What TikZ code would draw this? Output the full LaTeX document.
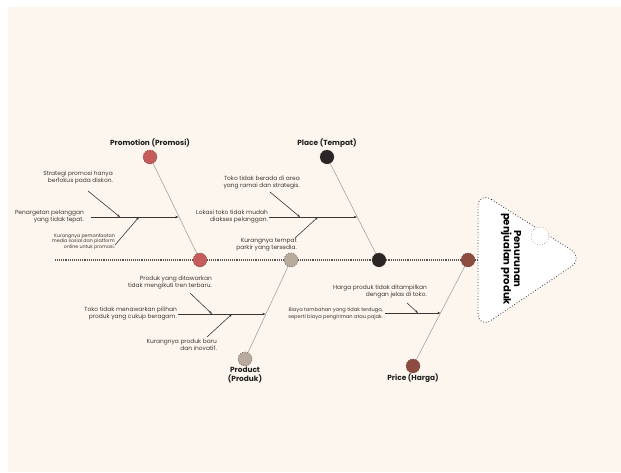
\documentclass[tikz,border=0pt]{standalone}
\usepackage{fontspec}
\setmainfont{Poppins}
\usetikzlibrary{arrows.meta}
\definecolor{cream}{HTML}{FDF6EE}
\definecolor{promoc}{HTML}{C65B5B}
\definecolor{placec}{HTML}{2A2626}
\definecolor{prodc}{HTML}{B8AA9C}
\definecolor{pricec}{HTML}{8E4B3F}
\definecolor{inkc}{HTML}{3A3636}
\begin{document}
\begin{tikzpicture}[x=1pt,y=-1pt,
  dotc/.style={circle,minimum size=14pt,inner sep=0pt,draw=inkc,line width=0.6pt,dotted},
  bone/.style={draw=gray!75,line width=0.55pt},
  sub/.style={draw=inkc,line width=0.6pt,-{Stealth[length=3.2pt,width=2.4pt]}},
  spine/.style={draw=inkc!85,line width=1.1pt,dash pattern=on 1pt off 0.9pt},
  cause/.style={font=\fontsize{5.9}{7}\selectfont,align=right,anchor=east,inner sep=0pt,text=inkc},
  tiny/.style={font=\fontsize{4.75}{5.4}\selectfont,align=right,anchor=east,inner sep=0pt,text=inkc},
  tinyb/.style={font=\fontsize{5.1}{6.6}\selectfont,align=right,anchor=east,inner sep=0pt,text=inkc},
  lbl/.style={font=\fontsize{7.4}{8.8}\selectfont\bfseries,align=center,inner sep=0pt,text=black!88}]
\useasboundingbox (0,0) rectangle (621,472);
\fill[white] (0,0) rectangle (621,472);
\fill[cream] (8,7) rectangle (621,472);
% head
\draw[fill=white,draw=inkc,line width=0.8pt,dotted,rounded corners=16pt]
  (478,191) -- (584,258) -- (478,329) -- cycle;
\node[circle,minimum size=18pt,inner sep=0pt,draw=gray,fill=white,line width=0.6pt,dotted] (eye) at (540,236) {};
\node[rotate=-90,font=\fontsize{10}{10.5}\selectfont\bfseries,align=center,inner sep=0pt] (head) at (511,259) {Penurunan\\penjualan produk};
\coordinate (tail) at (55,260);
\coordinate (headL) at (478,260);
\draw[spine] (tail) -- (headL);
% top and bottom circles
\node[dotc,fill=promoc] (promoT) at (150,157) {};
\node[dotc,fill=placec] (placeT) at (327,157) {};
\node[dotc,fill=prodc] (prodB) at (245,359) {};
\node[dotc,fill=pricec] (priceB) at (413,366) {};
% bones
\draw[bone] (promoT) -- (200,260) coordinate (promoJp);
\draw[bone] (placeT) -- (379,260) coordinate (placeJp);
\draw[bone] (prodB) -- (291,260) coordinate (prodJp);
\draw[bone] (priceB) -- (468,260) coordinate (priceJp);
% joints on spine
\node[dotc,fill=promoc] (promoJ) at (promoJp) {};
\node[dotc,fill=prodc] (prodJ) at (prodJp) {};
\node[dotc,fill=placec] (placeJ) at (placeJp) {};
\node[dotc,fill=pricec] (priceJ) at (priceJp) {};
% labels
\node[lbl] (promoL) at (150,143) {Promotion (Promosi)};
\node[lbl] (placeL) at (327,143) {Place (Tempat)};
\node[lbl] (prodL) at (245,375) {Product\\(Produk)};
\node[lbl] (priceL) at (413,378) {Price (Harga)};
% Promotion causes
\node[cause] (strat) at (113,178) {Strategi promosi hanya\\berfokus pada diskon.};
\node[cause] (pen) at (84,216.5) {Penargetan pelanggan\\yang tidak tepat.};
\node[tiny] (kurP) at (115,241.5) {Kurangnya pemanfaatan\\media sosial dan platform\\online untuk promosi.};
\coordinate (promoS) at (91,217);
\coordinate (promoB) at (178.5,217);
\coordinate (stratS) at (88,191);
\coordinate (stratE) at (120,217);
\coordinate (kurPS) at (115,245);
\coordinate (kurPE) at (139,217);
\draw[sub] (promoS) -- (promoB);
\draw[sub] (stratS) -- (stratE);
\draw[sub] (kurPS) -- (kurPE);
% Place causes
\node[cause] (tokoA) at (300,183) {Toko tidak berada di area\\yang ramai dan strategis.};
\node[cause] (lok) at (268,217) {Lokasi toko tidak mudah\\diakses pelanggan.};
\node[cause] (kurT) at (297,244.5) {Kurangnya tempat\\parkir yang tersedia.};
\coordinate (placeS) at (269,217);
\coordinate (placeB) at (357,217);
\coordinate (tokoAS) at (270,192);
\coordinate (tokoAE) at (300,217);
\coordinate (kurTS) at (295,238);
\coordinate (kurTE) at (318,217);
\draw[sub] (placeS) -- (placeB);
\draw[sub] (tokoAS) -- (tokoAE);
\draw[sub] (kurTS) -- (kurTE);
% Product causes
\node[cause] (prodA) at (212,283) {Produk yang ditawarkan\\tidak mengikuti tren terbaru.};
\node[cause] (tokoP) at (177,314) {Toko tidak menawarkan pilihan\\produk yang cukup beragam.};
\node[cause] (kurPr) at (217,345) {Kurangnya produk baru\\dan inovatif.};
\coordinate (prodS) at (178,314);
\coordinate (prodBr) at (265.5,314);
\coordinate (prodAS) at (190,293);
\coordinate (prodAE) at (212,314);
\coordinate (kurPrS) at (207,337);
\coordinate (kurPrE) at (232,314);
\draw[sub] (prodS) -- (prodBr);
\draw[sub] (prodAS) -- (prodAE);
\draw[sub] (kurPrS) -- (kurPrE);
% Price causes
\node[cause] (harga) at (427,292) {Harga produk tidak ditampilkan\\dengan jelas di toko.};
\node[tinyb] (biaya) at (383,314) {Biaya tambahan yang tidak terduga,\\seperti biaya pengiriman atau pajak.};
\coordinate (priceS) at (385,313);
\coordinate (priceBr) at (440.5,313);
\coordinate (hargaS) at (407,303);
\coordinate (hargaE) at (418,313);
\draw[sub] (priceS) -- (priceBr);
\draw[sub] (hargaS) -- (hargaE);
\end{tikzpicture}
\end{document}
